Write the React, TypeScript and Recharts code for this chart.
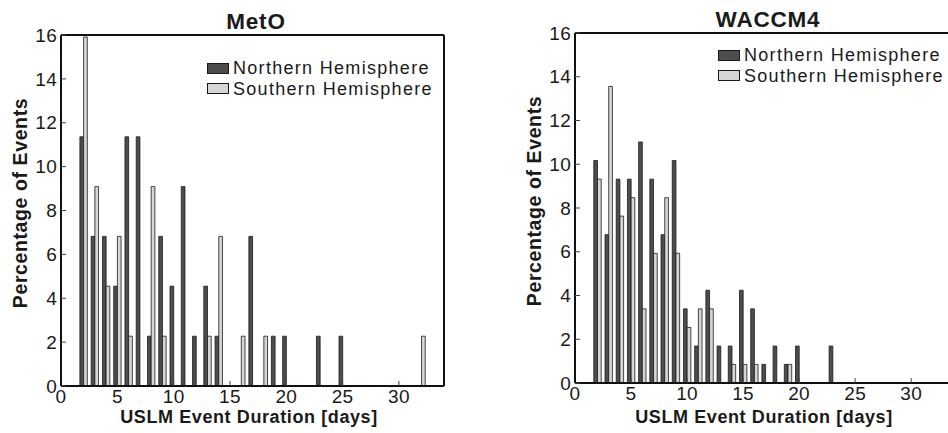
import React from 'react';
import { BarChart, Bar, XAxis, YAxis, Legend } from 'recharts';

// ---- data ----
const days = [1, 2, 3, 4, 5, 6, 7, 8, 9, 10, 11, 12, 13, 14, 15, 16, 17, 18, 19, 20, 21, 22, 23, 24, 25, 26, 27, 28, 29, 30, 31, 32, 33];

const metoNorth = [0, 11.36, 6.82, 6.82, 4.55, 11.36, 11.36, 2.27, 6.82, 4.55, 9.09, 2.27, 4.55, 2.27, 0, 0, 6.82, 0, 2.27, 2.27, 0, 0, 2.27, 0, 2.27, 0, 0, 0, 0, 0, 0, 0, 0];
const metoSouth = [0, 15.91, 9.09, 4.55, 6.82, 2.27, 0, 9.09, 2.27, 0, 0, 0, 2.27, 6.82, 0, 2.27, 0, 2.27, 0, 0, 0, 0, 0, 0, 0, 0, 0, 0, 0, 0, 0, 2.27, 0];

const waccmNorth = [0, 10.17, 6.78, 9.32, 9.32, 11.02, 9.32, 6.78, 10.17, 3.39, 1.69, 4.24, 1.69, 1.69, 4.24, 3.39, 0.85, 1.69, 0.85, 1.69, 0, 0, 1.69, 0, 0, 0, 0, 0, 0, 0, 0, 0, 0];
const waccmSouth = [0, 9.32, 13.56, 7.63, 8.47, 3.39, 5.93, 8.47, 5.93, 2.54, 3.39, 3.39, 0, 0.85, 0.85, 0.85, 0, 0, 0.85, 0, 0, 0, 0, 0, 0, 0, 0, 0, 0, 0, 0, 0, 0];

const xTicks = [0, 5, 10, 15, 20, 25, 30];
const yTicks = [0, 2, 4, 6, 8, 10, 12, 14, 16];

const seriesNames = { north: 'Northern Hemisphere', south: 'Southern Hemisphere' };
const titles = ['MetO', 'WACCM4'];
const xLabel = 'USLM Event Duration [days]';
const yLabel = 'Percentage of Events';

// ---- styles ----
const FONT = '"Liberation Sans", Arial, Helvetica, sans-serif';
const DARK = '#4d4d4d';
const LIGHT = '#d6d6d6';
const EDGE = '#1a1a1a';
const INK = '#1a1a1a';

const makeRows = (north: number[], south: number[]) =>
  days.map((d, i) => ({ day: d, north: north[i], south: south[i] }));

const metoRows = makeRows(metoNorth, metoSouth);
const waccmRows = makeRows(waccmNorth, waccmSouth);

const LegendBox = (props: any) => {
  const payload = props.payload || [];
  return (
    <div style={{ fontFamily: FONT, fontSize: 18, letterSpacing: 1.3, color: INK, lineHeight: '20.5px' }}>
      {payload.map((entry: any) => (
        <div key={entry.value} style={{ display: 'flex', alignItems: 'center', height: 20.5, whiteSpace: 'nowrap' }}>
          <span
            style={{
              display: 'inline-block',
              width: 20,
              height: 9,
              background: entry.dataKey === 'south' ? LIGHT : DARK,
              border: `1px solid ${EDGE}`,
              marginRight: 4,
            }}
          />
          <span>{entry.value}</span>
        </div>
      ))}
    </div>
  );
};

type PanelProps = {
  rows: any[];
  left: number;
  width: number;
  marginLeft: number;
  plotTop: number;
  plotBottom: number;
  legendLeft: number;
  legendTop: number;
};

const axisLine = { stroke: '#111', strokeWidth: 2 };
const tickLine = { stroke: '#444', strokeWidth: 1 };
const tickStyle = { fontSize: 19, fill: INK, letterSpacing: 0.3 };

function Panel({ rows, left, width, marginLeft, plotTop, plotBottom, legendLeft, legendTop }: PanelProps) {
  return (
    <div style={{ position: 'absolute', left, top: 0 }}>
      <BarChart
        width={width}
        height={433}
        data={rows}
        margin={{ top: plotTop - 2, right: 14, bottom: 433 - plotBottom - 30, left: marginLeft }}
        barGap={0}
        barSize={3.7}
      >
        <XAxis
          dataKey="day"
          type="number"
          domain={[0, 34]}
          ticks={xTicks}
          allowDataOverflow
          height={30}
          tickSize={-5}
          tickMargin={9}
          axisLine={axisLine}
          tickLine={tickLine}
          tick={tickStyle}
          interval={0}
        />
        <XAxis
          xAxisId="top"
          orientation="top"
          dataKey="day"
          type="number"
          domain={[0, 34]}
          ticks={xTicks}
          allowDataOverflow
          height={2}
          tickSize={-5}
          axisLine={axisLine}
          tickLine={tickLine}
          tick={false}
          interval={0}
        />
        <YAxis
          type="number"
          domain={[0, 16]}
          ticks={yTicks}
          allowDataOverflow
          width={40}
          tickSize={-5}
          tickMargin={9}
          axisLine={axisLine}
          tickLine={tickLine}
          tick={tickStyle}
          interval={0}
        />
        <YAxis
          yAxisId="right"
          orientation="right"
          type="number"
          domain={[0, 16]}
          ticks={yTicks}
          allowDataOverflow
          width={2}
          tickSize={-5}
          axisLine={axisLine}
          tickLine={tickLine}
          tick={false}
          interval={0}
        />
        <Bar dataKey="north" name={seriesNames.north} fill={DARK} stroke={EDGE} strokeWidth={0.8} isAnimationActive={false} />
        <Bar dataKey="south" name={seriesNames.south} fill={LIGHT} stroke={EDGE} strokeWidth={0.8} isAnimationActive={false} />
        <Legend
          layout="vertical"
          align="center"
          verticalAlign="middle"
          content={<LegendBox />}
          wrapperStyle={{ left: legendLeft, top: legendTop, width: 'auto', height: 'auto' }}
        />
      </BarChart>
    </div>
  );
}

export default function App() {
  return (
    <div
      style={{
        position: 'absolute',
        left: 0,
        top: 0,
        width: 948,
        height: 433,
        overflow: 'hidden',
        background: '#fff',
        fontFamily: FONT,
      }}
    >
      <Panel rows={metoRows} left={0} width={460} marginLeft={21} plotTop={35} plotBottom={386} legendLeft={207} legendTop={58} />
      <Panel rows={waccmRows} left={515} width={457} marginLeft={20} plotTop={33} plotBottom={383} legendLeft={203} legendTop={45} />
      <svg
        width={948}
        height={433}
        style={{ position: 'absolute', left: 0, top: 0, pointerEvents: 'none' }}
      >
        <g fontFamily={FONT} fontWeight="bold" fill={INK}>
          <text x={256} y={29} textAnchor="middle" fontSize={22.5} letterSpacing={0.8}>{titles[0]}</text>
          <text x={768} y={27} textAnchor="middle" fontSize={22.5} letterSpacing={0.8}>{titles[1]}</text>
          <text x={249} y={423} textAnchor="middle" fontSize={18} letterSpacing={0.6}>{xLabel}</text>
          <text x={764} y={423} textAnchor="middle" fontSize={18} letterSpacing={0.6}>{xLabel}</text>
          <text transform="translate(27,203) rotate(-90)" textAnchor="middle" fontSize={19.5} letterSpacing={0.6}>{yLabel}</text>
          <text transform="translate(541,201) rotate(-90)" textAnchor="middle" fontSize={19.5} letterSpacing={0.6}>{yLabel}</text>
        </g>
      </svg>
    </div>
  );
}
